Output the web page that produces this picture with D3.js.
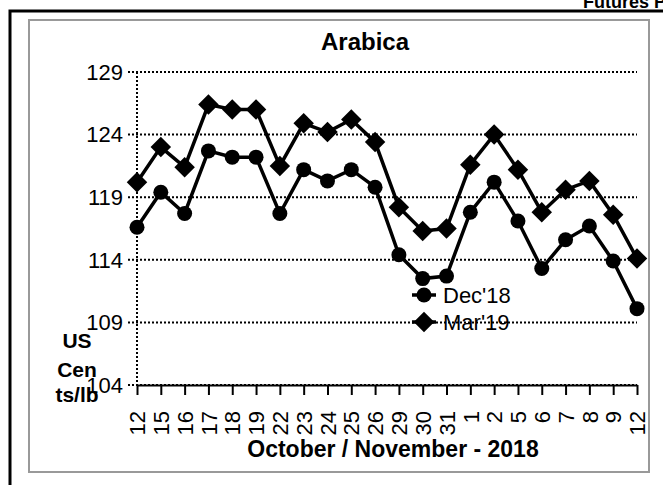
<!DOCTYPE html>
<html><head><meta charset="utf-8">
<script src="https://cdn.jsdelivr.net/npm/d3@7"></script>
<style>body{margin:0;background:#fff}svg{display:block;font-family:"Liberation Sans",Arial,sans-serif}</style>
</head><body><svg id="c" width="663" height="485"></svg>
<script>
const dates = ["12","15","16","17","18","19","22","23","24","25","26","29","30","31","1","2","5","6","7","8","9","12"];
const dec18 = [116.6,119.4,117.7,122.7,122.2,122.2,117.7,121.2,120.3,121.2,119.8,114.4,112.5,112.7,117.8,120.2,117.1,113.3,115.6,116.7,113.9,110.1];
const mar19 = [120.2,123.0,121.4,126.4,126.0,126.0,121.5,124.9,124.2,125.2,123.4,118.2,116.3,116.5,121.6,124.0,121.2,117.8,119.6,120.3,117.6,114.1];
const yTicks = [104,109,114,119,124,129];
const seriesNames = ["Dec'18","Mar'19"];

const svg = d3.select("#c");
// outer borders
svg.append("rect").attr("x",10).attr("y",11).attr("width",700).attr("height",500)
  .attr("fill","none").attr("stroke","#000").attr("stroke-width",3);
svg.append("rect").attr("x",29).attr("y",20).attr("width",620).attr("height",452)
  .attr("fill","none").attr("stroke","#999").attr("stroke-width",2);
svg.append("text").attr("x",583).attr("y",8).attr("font-weight","bold").attr("font-size",18).text("Futures Prices");

const x = d3.scaleLinear().domain([0,dates.length-1]).range([137,637]);
const y = d3.scaleLinear().domain([104,129]).range([385,72]);

// gridlines
svg.append("g").selectAll("line").data(yTicks).join("line")
  .attr("x1",128).attr("x2",x(dates.length-1)).attr("y1",d=>y(d)).attr("y2",d=>y(d))
  .attr("stroke","#000").attr("stroke-width",2).attr("stroke-dasharray","2,2");
svg.append("line").attr("x1",x(0)).attr("x2",x(0)).attr("y1",y(129)).attr("y2",y(104))
  .attr("stroke","#000").attr("stroke-width",2).attr("stroke-dasharray","2,2");

// y labels
svg.append("g").selectAll("text").data(yTicks).join("text")
  .attr("x",123).attr("y",d=>y(d)).attr("dy","0.35em").attr("text-anchor","end")
  .attr("font-size",22).text(d=>d);

// x axis
const xAxis = d3.axisBottom(x).tickValues(d3.range(dates.length)).tickFormat(i=>dates[i]).tickSize(10).tickSizeOuter(0);
const gx = svg.append("g").attr("transform",`translate(0,${y(104)})`).call(xAxis);
gx.select(".domain").attr("stroke","#000").attr("stroke-width",2);
gx.selectAll(".tick line").attr("stroke","#000").attr("stroke-width",2);
gx.selectAll(".tick text").attr("font-size",22).attr("font-family","Liberation Sans, Arial, sans-serif")
  .attr("fill","#000").attr("transform","rotate(-90)").attr("text-anchor","end")
  .attr("x",-26).attr("y",0).attr("dy","0.35em");

// titles
svg.append("text").attr("x",365).attr("y",50).attr("text-anchor","middle").attr("font-weight","bold").attr("font-size",24).text("Arabica");
svg.append("text").attr("x",393).attr("y",457).attr("text-anchor","middle").attr("font-weight","bold").attr("font-size",23).text("October / November - 2018");
const yt = svg.append("text").attr("text-anchor","middle").attr("font-weight","bold").attr("font-size",21);
[["US",348],["Cen",377],["ts/lb",402]].forEach(([t,yy])=>yt.append("tspan").attr("x",77).attr("y",yy).text(t));

// series
const line = d3.line().x((d,i)=>x(i)).y(d=>y(d));
function drawSeries(data, kind){
  svg.append("path").attr("d",line(data)).attr("fill","none").attr("stroke","#000").attr("stroke-width",3.5);
  const g = svg.append("g");
  if(kind==="circle"){
    g.selectAll("circle").data(data).join("circle").attr("cx",(d,i)=>x(i)).attr("cy",d=>y(d)).attr("r",7.5).attr("fill","#000");
  } else {
    g.selectAll("path").data(data).join("path")
      .attr("d",d3.symbol().type(d3.symbolSquare).size(210))
      .attr("transform",(d,i)=>`translate(${x(i)},${y(d)}) rotate(45)`).attr("fill","#000");
  }
}
drawSeries(dec18,"circle");
drawSeries(mar19,"diamond");

// legend
const lg = svg.append("g");
[0,1].forEach(k=>{
  const ly = 295 + k*27;
  lg.append("line").attr("x1",412).attr("x2",436).attr("y1",ly).attr("y2",ly).attr("stroke","#000").attr("stroke-width",3.5);
  if(k===0) lg.append("circle").attr("cx",424).attr("cy",ly).attr("r",7.5).attr("fill","#000");
  else lg.append("path").attr("d",d3.symbol().type(d3.symbolSquare).size(210)).attr("transform",`translate(424,${ly}) rotate(45)`).attr("fill","#000");
  lg.append("text").attr("x",443).attr("y",ly).attr("dy","0.35em").attr("font-size",22).text(seriesNames[k]);
});
</script></body></html>
